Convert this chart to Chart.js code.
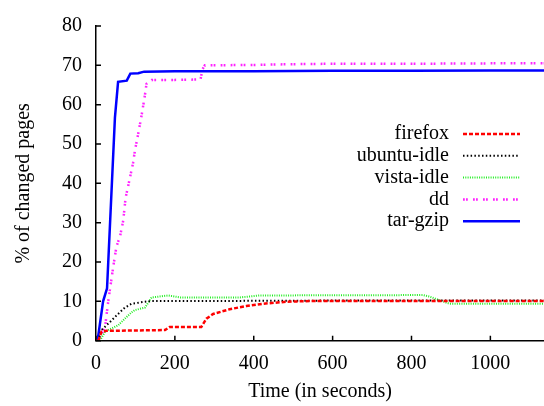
<!DOCTYPE html>
<html>
<head>
<meta charset="utf-8">
<script src="https://cdn.jsdelivr.net/npm/chart.js@4/dist/chart.umd.min.js"></script>
<style>
    html, body { margin: 0; padding: 0; background: #fff; }
    #wrap { width: 544px; height: 406px; }
</style>
</head>
<body>
<div id="wrap"><canvas id="chart" width="544" height="406"></canvas></div>
<script>
// series labels (legend order)
const seriesNames = ["firefox", "ubuntu-idle", "vista-idle", "dd", "tar-gzip"];

// time (s) and % of changed pages
const firefoxX = [6, 14, 27, 175, 187, 267, 280, 297, 339, 381, 424, 483, 550, 800, 1000, 1136];
const firefoxY = [0, 2.3, 2.5, 2.7, 3.5, 3.5, 5.6, 6.8, 8.0, 8.8, 9.4, 9.9, 10.1, 10.1, 10.1, 10.1];

const ubuntuX = [6, 14, 40, 56, 73, 90, 124, 141, 300, 600, 800, 1000, 1136];
const ubuntuY = [0, 2.7, 5.2, 6.8, 8.4, 9.4, 9.9, 10.1, 10.1, 10.2, 10.2, 10.2, 10.2];

const vistaX = [10, 23, 56, 73, 90, 99, 124, 132, 141, 183, 213, 365, 415, 830, 846, 896, 1136];
const vistaY = [0, 2.3, 3.9, 5.6, 7.2, 7.8, 8.4, 9.6, 11.0, 11.5, 11.0, 11.0, 11.5, 11.6, 11.2, 9.4, 9.4];

const ddX = [0, 8, 23, 31, 44, 52, 61, 69, 75, 82, 94, 99, 107, 116, 124, 128, 141, 200, 265, 270, 276, 400, 500, 600, 800, 1000, 1136];
const ddY = [0, 0.5, 3.5, 10, 19, 24, 26.5, 30.5, 36.3, 39.5, 45.2, 48.5, 52.6, 57.5, 62.4, 65.3, 66.3, 66.3, 66.4, 69.0, 70.0, 70.1, 70.3, 70.4, 70.4, 70.5, 70.5];

const tarX = [4, 18, 28, 48, 56, 78, 87, 107, 122, 200, 400, 600, 800, 1000, 1136];
const tarY = [0, 10, 13.3, 56.7, 65.8, 66.1, 67.9, 68.0, 68.4, 68.5, 68.5, 68.6, 68.6, 68.7, 68.7];

// tick labels
const xTicks = [0, 200, 400, 600, 800, 1000];
const yTicks = [0, 10, 20, 30, 40, 50, 60, 70, 80];

const FONT = '"Liberation Serif", "Times New Roman", serif';

function toPoints(xs, ys) {
    return xs.map((x, i) => ({ x: x, y: ys[i] }));
}

const styles = [
    { color: "#ff0000", width: 2.5, dash: [4, 2] },
    { color: "#000000", width: 2, dash: [1.5, 2.3] },
    { color: "#22ee22", width: 2, dash: [1, 1.3] },
    { color: "#ff22ff", width: 2.5, dash: [1.8, 1.2, 1.8, 5.2] },
    { color: "#0000ff", width: 2.5, dash: [] }
];

const seriesData = [
    toPoints(firefoxX, firefoxY),
    toPoints(ubuntuX, ubuntuY),
    toPoints(vistaX, vistaY),
    toPoints(ddX, ddY),
    toPoints(tarX, tarY)
];

//Draw the small inward ticks like gnuplot does
const innerTicks = {
    id: "innerTicks",
    afterDatasetsDraw(chart) {
        const ctx = chart.ctx;
        const xs = chart.scales.x;
        const ys = chart.scales.y;
        const area = chart.chartArea;
        ctx.save();
        ctx.strokeStyle = "#000";
        ctx.lineWidth = 1.5;
        ctx.beginPath();
        xTicks.forEach(v => {
            const px = xs.getPixelForValue(v);
            ctx.moveTo(px, area.bottom);
            ctx.lineTo(px, area.bottom - 5);
        });
        yTicks.forEach(v => {
            const py = ys.getPixelForValue(v);
            ctx.moveTo(area.left, py);
            ctx.lineTo(area.left + 5, py);
        });
        ctx.stroke();
        ctx.restore();
    }
};

//Legend with the text on the left of the line sample
const sideLegend = {
    id: "sideLegend",
    afterDraw(chart) {
        const ctx = chart.ctx;
        ctx.save();
        ctx.font = "20px " + FONT;
        ctx.textAlign = "right";
        ctx.textBaseline = "middle";
        chart.data.datasets.forEach((ds, i) => {
            const y = 134 + i * 21.8;
            ctx.fillStyle = "#000";
            ctx.fillText(ds.label, 449, y);
            ctx.strokeStyle = ds.borderColor;
            ctx.lineWidth = ds.borderWidth;
            ctx.setLineDash(ds.borderDash);
            ctx.beginPath();
            ctx.moveTo(463, y);
            ctx.lineTo(520, y);
            ctx.stroke();
        });
        ctx.restore();
    }
};

new Chart(document.getElementById("chart"), {
    type: "line",
    data: {
        datasets: seriesData.map((pts, i) => ({
            label: seriesNames[i],
            data: pts,
            borderColor: styles[i].color,
            borderWidth: styles[i].width,
            borderDash: styles[i].dash,
            pointRadius: 0,
            tension: 0,
            fill: false
        }))
    },
    options: {
        responsive: false,
        animation: false,
        layout: { padding: { top: 14.7, right: 0, left: 0, bottom: 0 } },
        plugins: {
            legend: { display: false },
            tooltip: { enabled: false }
        },
        scales: {
            x: {
                type: "linear",
                min: 0,
                max: 1136,
                afterBuildTicks: (s) => { s.ticks = xTicks.map(v => ({ value: v })); },
                afterFit: (s) => { s.height = 65.3; },
                grid: { display: false, drawTicks: false },
                border: { display: true, color: "#000", width: 1.5 },
                ticks: {
                    color: "#000",
                    font: { family: FONT, size: 20 },
                    padding: 11,
                    maxRotation: 0,
                    callback: (v) => String(v)
                },
                title: {
                    display: true,
                    text: "Time (in seconds)",
                    color: "#000",
                    font: { family: FONT, size: 20 },
                    padding: { top: 0, bottom: 2 }
                }
            },
            y: {
                min: 0,
                max: 80,
                afterBuildTicks: (s) => { s.ticks = yTicks.map(v => ({ value: v })); },
                afterFit: (s) => { s.width = 96; },
                grid: { display: false, drawTicks: false },
                border: { display: true, color: "#000", width: 1.5 },
                ticks: {
                    color: "#000",
                    font: { family: FONT, size: 20 },
                    padding: 14,
                    callback: (v) => String(v)
                },
                title: {
                    display: true,
                    text: "% of changed pages",
                    color: "#000",
                    font: { family: FONT, size: 20 },
                    padding: { top: 12, bottom: 0 }
                }
            }
        }
    },
    plugins: [innerTicks, sideLegend]
});
</script>
</body>
</html>
